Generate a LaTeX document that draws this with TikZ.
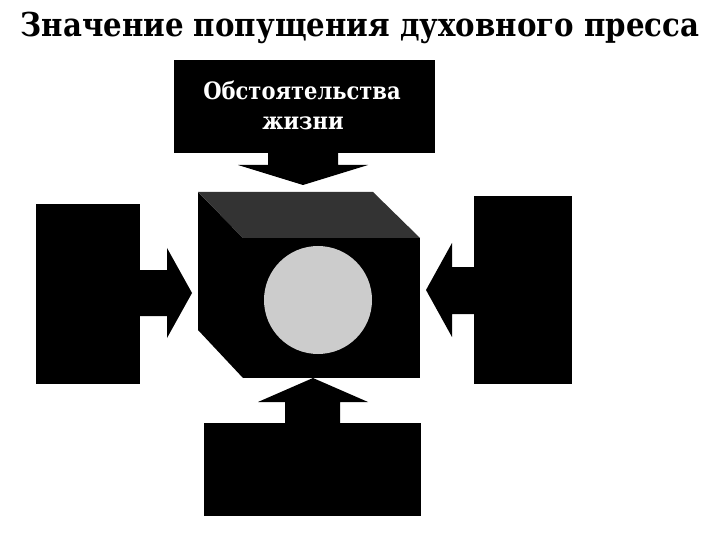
\documentclass[tikz,border=0pt]{standalone}
\usepackage{fontspec}
\setmainfont{DejaVu Serif}
\usetikzlibrary{calc}
\tikzset{
	box/.style={fill=black, draw=none, inner sep=0pt},
	label/.style={text=white, font=\bfseries\fontsize{24}{30}\selectfont, align=center},
}
\begin{document}
\begin{tikzpicture}[x=1bp,y=-1bp]
	\useasboundingbox (0,0) rectangle (720,540);

	% title
	\node[font=\bfseries\fontsize{33}{38}\selectfont, anchor=base] (title) at (360,37) {\scalebox{0.89}[1]{Значение попущения духовного пресса}};

	% outer boxes
	\node[box, minimum width=261bp, minimum height=93bp] (top) at (304.5,106.5) {};
	\node[label, anchor=base] (toptext) at (302,100) {\scalebox{0.88}[1]{Обстоятельства}};
	\node[label, anchor=base] (toptext2) at (303,130) {\scalebox{0.88}[1]{жизни}};
	\node[box, minimum width=104bp, minimum height=180bp] (left) at (88,294) {};
	\node[box, minimum width=98bp, minimum height=188bp] (right) at (523,290) {};
	\node[box, minimum width=217bp, minimum height=93bp] (bottom) at (312.5,469.5) {};

	% the press (cube)
	\coordinate (bl) at (198,192);
	\coordinate (br) at (373,192);
	\coordinate (fl) at (243,238);
	\coordinate (fr) at (420,238);
	\fill[black] (bl) -- (fl) -- (243,378) -- (198,330) -- cycle;
	\fill[black!80] (bl) -- (br) -- (fr) -- (fl) -- cycle;
	\fill[black] (fl) rectangle (420,378);
	\fill[black!20] (318,300) circle (54);

	% arrow tips
	\coordinate (tipT) at (303,185);
	\coordinate (tipL) at (192,293);
	\coordinate (tipR) at (426,290);
	\coordinate (tipB) at (313,378);

	% block arrows
	\fill (tipT) -- ++(-65,-20) -- ++(30,0) -- ++(0,-14) -- ++(70,0) -- ++(0,14) -- ++(30,0) -- cycle;
	\fill (tipL) -- ++(-25,-45) -- ++(0,22) -- ++(-30,0) -- ++(0,46) -- ++(30,0) -- ++(0,22) -- cycle;
	\fill (tipR) -- ++(26,-47) -- ++(0,24) -- ++(30,0) -- ++(0,47) -- ++(-30,0) -- ++(0,23) -- cycle;
	\fill (tipB) -- ++(-55,24) -- ++(27,0) -- ++(0,25) -- ++(55,0) -- ++(0,-25) -- ++(28,0) -- cycle;
\end{tikzpicture}
\end{document}
